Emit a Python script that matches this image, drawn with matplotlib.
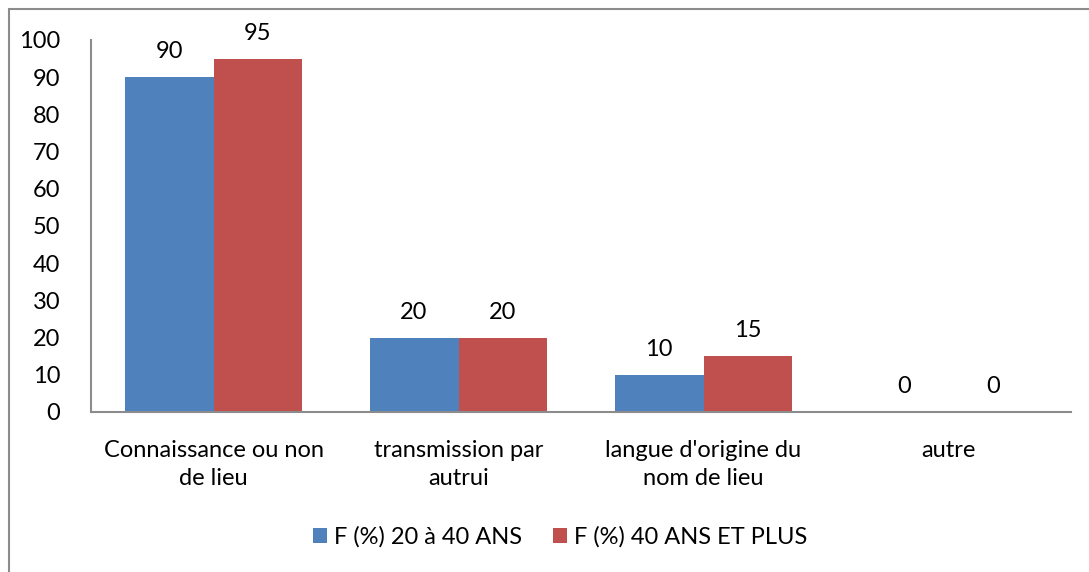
import matplotlib
matplotlib.use("Agg")
from matplotlib import pyplot as plt
from matplotlib.patches import Rectangle
import numpy as np

categories = ["Connaissance ou non\nde lieu", "transmission par\nautrui",
              "langue d'origine du\nnom de lieu", "autre"]
young = [90, 20, 10, 0]
old = [95, 20, 15, 0]
series_names = ["F (%) 20 à 40 ANS", "F (%) 40 ANS ET PLUS"]

plt.rcParams['font.family'] = ['Lato', 'DejaVu Sans']
fs = 17

fig = plt.figure(figsize=(10.89, 5.72), dpi=100)
ax = fig.add_axes([91 / 1089, 1 - 412 / 572, 980 / 1089, 372 / 572])

# outer chart border (bottom and right fall outside the picture)
fig.patches.append(Rectangle((9 / 1089, -0.1), 1.2, 1.1 - 9 / 572, transform=fig.transFigure,
                             fill=False, edgecolor="#8c8c8c", linewidth=1.5))

x = np.arange(len(categories))
w = 0.363
b1 = ax.bar(x - w / 2, young, w, color="#4F81BD", label=series_names[0])
b2 = ax.bar(x + w / 2, old, w, color="#C0504D", label=series_names[1])

for bars in (b1, b2):
    for r in bars:
        ax.text(r.get_x() + r.get_width() / 2, r.get_height() + 4, "%d" % r.get_height(),
                ha="center", va="bottom", fontsize=fs)

ax.set_xlim(-0.5, 3.5)
ax.set_ylim(0, 100)
ax.set_yticks(range(0, 101, 10))
ax.set_xticks(x)
ax.set_xticklabels(categories, fontsize=fs, linespacing=1.45)
ax.tick_params(axis="y", length=0, labelsize=fs, pad=22)
ax.tick_params(axis="x", length=0, pad=20)
for s in ("top", "right"):
    ax.spines[s].set_visible(False)
for s in ("left", "bottom"):
    ax.spines[s].set_color("#8c8c8c")
    ax.spines[s].set_linewidth(1.5)

fig.legend(loc="center", bbox_to_anchor=(560 / 1089, 1 - 537 / 572), ncol=2, frameon=False,
           fontsize=fs, handlelength=0.6, handleheight=0.6, handletextpad=0.3,
           columnspacing=1.3)

fig.savefig("out.png", dpi=100)
